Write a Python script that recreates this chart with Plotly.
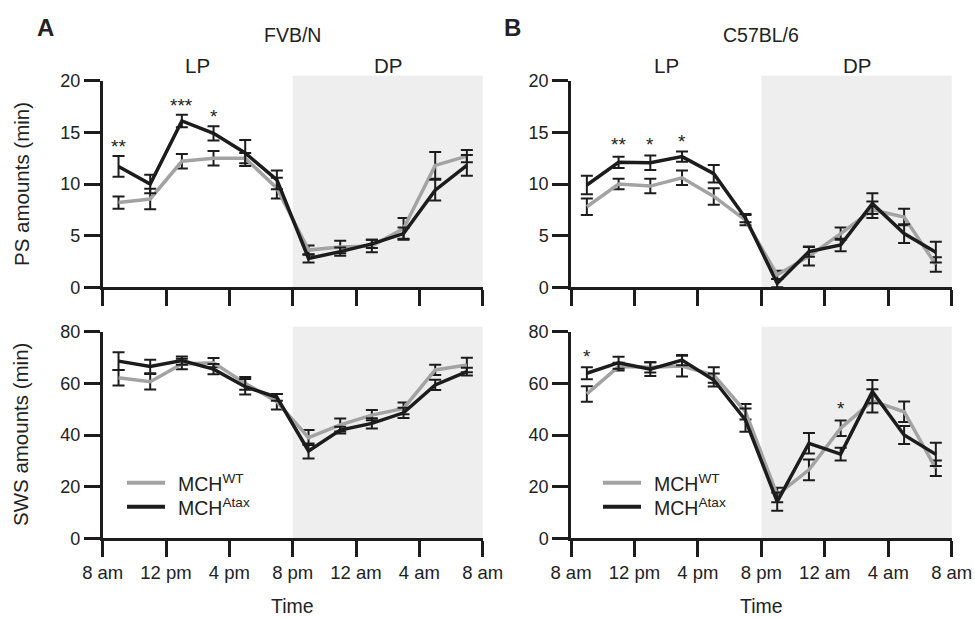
import plotly.graph_objects as go

W, H = 975, 619

# ---------------- data ----------------
hours = [1, 3, 5, 7, 9, 11, 13, 15, 17, 19, 21, 23]   # hours after 8 am
tick_hours = [0, 4, 8, 12, 16, 20, 24]
tick_labels = ["8 am", "12 pm", "4 pm", "8 pm", "12 am", "4 am", "8 am"]
dark_start, dark_end = 12, 24

fvb_ps_wt = [8.2, 8.55, 12.2, 12.5, 12.5, 9.6, 3.6, 3.9, 4.0, 5.7, 11.8, 12.7]
fvb_ps_wt_err = [0.6, 1.0, 0.7, 0.7, 0.5, 1.0, 0.45, 0.6, 0.6, 1.0, 1.3, 0.6]
fvb_ps_atax = [11.7, 10.0, 16.1, 14.9, 13.0, 10.4, 2.8, 3.45, 4.2, 5.2, 9.4, 11.8]
fvb_ps_atax_err = [1.0, 0.9, 0.6, 0.7, 1.25, 0.9, 0.4, 0.4, 0.4, 0.6, 1.0, 1.0]

fvb_sws_wt = [62.2, 60.6, 67.5, 68.0, 60.0, 52.9, 39.0, 43.9, 47.7, 50.3, 65.2, 67.1]
fvb_sws_wt_err = [3.0, 3.0, 2.0, 1.8, 2.5, 3.0, 2.9, 2.5, 2.0, 2.3, 2.0, 2.8]
fvb_sws_atax = [68.6, 66.5, 68.8, 65.5, 58.7, 54.6, 33.8, 41.9, 44.5, 48.6, 59.4, 64.5]
fvb_sws_atax_err = [3.4, 2.6, 1.6, 2.0, 3.0, 1.3, 2.9, 1.3, 2.0, 2.0, 2.0, 1.5]

c57_ps_wt = [7.8, 10.0, 9.8, 10.6, 8.8, 6.5, 1.2, 3.0, 5.2, 7.5, 6.8, 2.2]
c57_ps_wt_err = [0.8, 0.5, 0.7, 0.7, 0.8, 0.5, 0.4, 0.9, 0.6, 0.8, 0.8, 0.7]
c57_ps_atax = [9.9, 12.1, 12.05, 12.65, 11.0, 6.7, 0.4, 3.45, 4.1, 8.1, 5.2, 3.4]
c57_ps_atax_err = [0.9, 0.55, 0.7, 0.5, 0.85, 0.4, 0.4, 0.5, 0.6, 1.0, 0.9, 1.0]

c57_sws_wt = [55.9, 66.5, 66.2, 66.7, 63.2, 49.0, 16.8, 26.5, 42.6, 53.2, 49.0, 27.1]
c57_sws_wt_err = [3.0, 1.5, 2.0, 4.0, 3.0, 3.0, 2.8, 4.0, 3.0, 4.5, 4.0, 3.0]
c57_sws_atax = [63.9, 68.0, 65.5, 69.0, 61.3, 45.8, 14.2, 36.8, 32.6, 56.8, 40.0, 32.5]
c57_sws_atax_err = [2.3, 2.3, 2.7, 2.0, 2.5, 4.5, 3.5, 4.0, 2.5, 4.5, 3.5, 4.5]

# significance stars: (hour, y, text)
fvb_ps_stars = [(1, 14.1, "**"), (5, 18.1, "***"), (7, 17.0, "*")]
c57_ps_stars = [(3, 14.3, "**"), (5, 14.3, "*"), (7, 14.6, "*")]
c57_sws_stars = [(1, 72.3, "*"), (17, 52.3, "*")]

series_names = ["MCH<sup>WT</sup>", "MCH<sup>Atax</sup>"]
panel_titles = ["FVB/N", "C57BL/6"]
panel_letters = ["A", "B"]
ps_range, ps_ticks = [0, 20], [0, 5, 10, 15, 20]
sws_range, sws_ticks = [0, 80], [0, 20, 40, 60, 80]

# ---------------- styling ----------------
FONT = "Liberation Sans, Arial, Helvetica, sans-serif"
GRAY = "#a3a3a3"
BLACK = "#1c1c1c"
SHADE = "#eeeeee"
TXT = "#222222"


def fx(px):
    return px / W


def fy(px):
    return 1 - px / H


x_dom = [[fx(102.7), fx(482.7)], [fx(571), fx(951.7)]]
y_dom_top = [fy(287.3), fy(80.7)]
y_dom_bot = [fy(538.3), fy(331.7)]

fig = go.Figure()

panels = [
    (1, 1, 0, 0, fvb_ps_wt, fvb_ps_wt_err, fvb_ps_atax, fvb_ps_atax_err),
    (2, 2, 1, 0, c57_ps_wt, c57_ps_wt_err, c57_ps_atax, c57_ps_atax_err),
    (3, 3, 0, 1, fvb_sws_wt, fvb_sws_wt_err, fvb_sws_atax, fvb_sws_atax_err),
    (4, 4, 1, 1, c57_sws_wt, c57_sws_wt_err, c57_sws_atax, c57_sws_atax_err),
]

shapes = []
annotations = []

for (xi, yi, col, row, wt, wte, at, ate) in panels:
    xa = "x" if xi == 1 else f"x{xi}"
    ya = "y" if yi == 1 else f"y{yi}"
    for vals, errs, color, name in [(wt, wte, GRAY, series_names[0]), (at, ate, BLACK, series_names[1])]:
        fig.add_trace(go.Scatter(
            x=hours, y=vals, mode="lines", name=name, showlegend=False,
            line=dict(color=color, width=3.5),
            error_y=dict(type="data", array=errs, visible=True, color=BLACK,
                         thickness=2, width=6),
            xaxis=xa, yaxis=ya, cliponaxis=False,
        ))
    shapes.append(dict(type="rect", xref=f"{xa} domain", yref=f"{ya} domain",
                       x0=dark_start / 24, x1=dark_end / 24, y0=0, y1=1.024,
                       fillcolor=SHADE, line=dict(width=0), layer="below"))

    axis_common = dict(showline=True, linecolor=BLACK, linewidth=2.5,
                       ticks="outside", ticklen=16, tickwidth=2.5, tickcolor=BLACK,
                       showgrid=False, zeroline=False, automargin=False)
    xkey = "xaxis" if xi == 1 else f"xaxis{xi}"
    ykey = "yaxis" if yi == 1 else f"yaxis{yi}"
    fig.update_layout(**{
        xkey: dict(domain=x_dom[col], range=[0, 24], anchor=ya,
                   tickvals=tick_hours, ticktext=tick_labels,
                   showticklabels=(row == 1), ticklabeloverflow="allow",
                   tickfont=dict(family=FONT, size=18.5, color=TXT), **axis_common),
        ykey: dict(domain=(y_dom_top if row == 0 else y_dom_bot), anchor=xa,
                   range=(ps_range if row == 0 else sws_range),
                   tickvals=(ps_ticks if row == 0 else sws_ticks),
                   tickfont=dict(family=FONT, size=18, color=TXT), **axis_common),
    })

for xa, ya, stars in [("x", "y", fvb_ps_stars), ("x2", "y2", c57_ps_stars), ("x4", "y4", c57_sws_stars)]:
    for hx, hy, txt in stars:
        annotations.append(dict(x=hx, y=hy, xref=xa, yref=ya, text=txt, showarrow=False,
                                xanchor="center", yanchor="middle", yshift=-5,
                                font=dict(family=FONT, size=19, color=TXT)))


def label(x, y, text, size, xref="paper", angle=0, xanchor="center"):
    annotations.append(dict(x=x, y=y, xref=xref, yref="paper", text=text, showarrow=False,
                            xanchor=xanchor, yanchor="middle", textangle=angle,
                            font=dict(family=FONT, size=size, color=TXT)))


for col, (xa, title, letter) in enumerate(zip(["x", "x2"], panel_titles, panel_letters)):
    cx = (x_dom[col][0] + x_dom[col][1]) / 2
    label(cx, fy(35), title, 19.5)
    label(fx(45.5 + col * 467), fy(27.5), f"<b>{letter}</b>", 24)
    label(dark_start / 2, fy(65), "LP", 20.5, xref=xa)
    label((dark_start + dark_end) / 2, fy(65), "DP", 20.5, xref=xa)
    label(cx, fy(606), "Time", 19.5)

label(fx(21), (y_dom_top[0] + y_dom_top[1]) / 2, "PS amounts (min)", 20.5, angle=-90)
label(fx(21), (y_dom_bot[0] + y_dom_bot[1]) / 2, "SWS amounts (min)", 20.5, angle=-90)

for lx0 in [127, 603]:
    for i, (color, name) in enumerate([(GRAY, series_names[0]), (BLACK, series_names[1])]):
        ypx = 482.7 + i * 24
        shapes.append(dict(type="line", xref="paper", yref="paper",
                           x0=fx(lx0), x1=fx(lx0 + 38), y0=fy(ypx), y1=fy(ypx),
                           line=dict(color=color, width=4)))
        label(fx(lx0 + 49), fy(ypx), name, 19.5, xanchor="left")

fig.update_layout(
    template="none",
    width=W, height=H, margin=dict(l=0, r=0, t=0, b=0, pad=0, autoexpand=False),
    paper_bgcolor="white", plot_bgcolor="rgba(0,0,0,0)",
    shapes=shapes, annotations=annotations, showlegend=False,
    font=dict(family=FONT, color=TXT),
)

fig.write_html(
    "out.html",
    config={"displayModeBar": False, "responsive": False},
    post_script="document.documentElement.style.overflow='hidden';"
                "document.body.style.margin='0';document.body.style.overflow='hidden';",
)
